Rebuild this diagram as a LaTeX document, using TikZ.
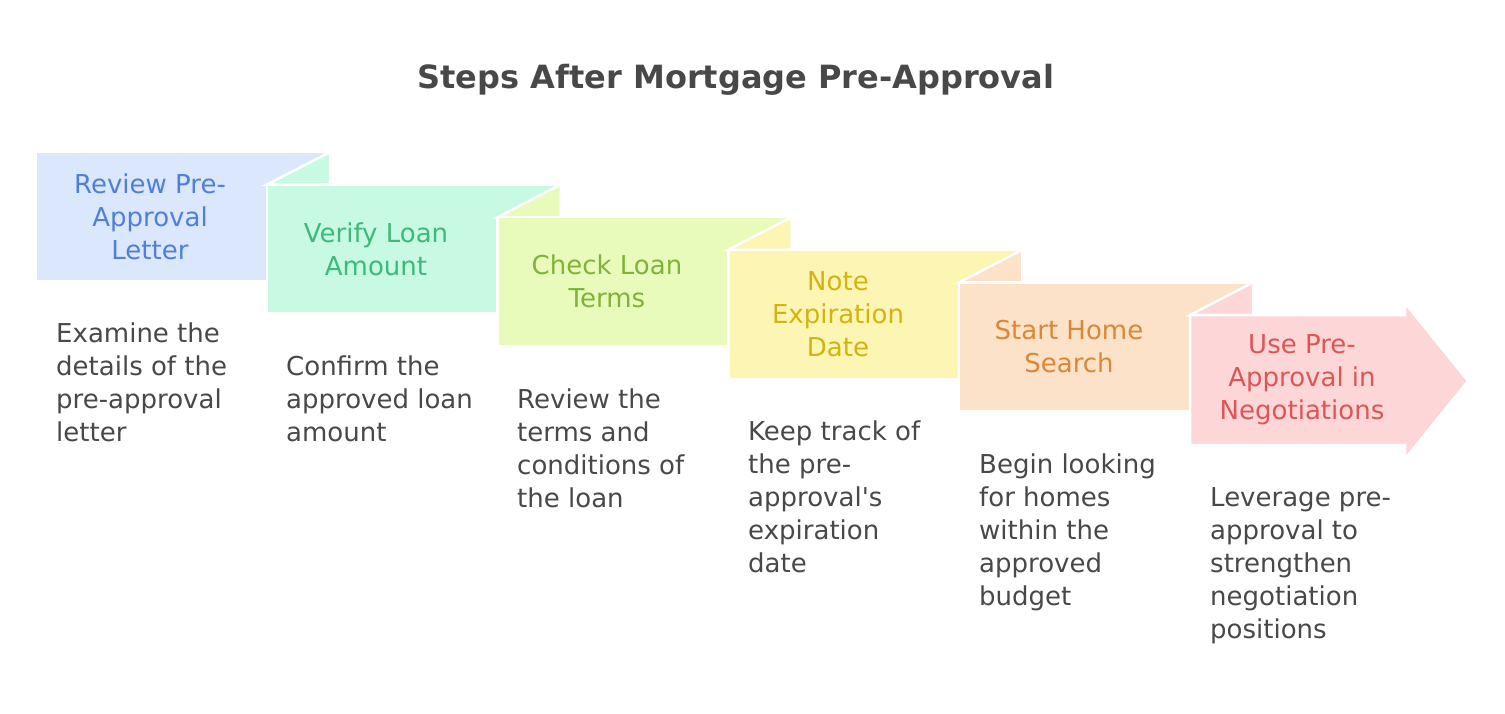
\documentclass[tikz,border=0pt]{standalone}
\usepackage{fontspec}
\setmainfont{DejaVu Sans}

\definecolor{reviewFill}{HTML}{DBE7FD}
\definecolor{reviewText}{HTML}{4F80D9}
\definecolor{verifyFill}{HTML}{C8FAE3}
\definecolor{verifyText}{HTML}{3DBA7B}
\definecolor{checkFill}{HTML}{E8FBBB}
\definecolor{checkText}{HTML}{80B339}
\definecolor{noteFill}{HTML}{FDF5B3}
\definecolor{noteText}{HTML}{D3B40F}
\definecolor{searchFill}{HTML}{FDE2CA}
\definecolor{searchText}{HTML}{DD8634}
\definecolor{useFill}{HTML}{FDD7D7}
\definecolor{useText}{HTML}{DD5555}
\definecolor{inkGray}{HTML}{484848}

\begin{document}
\begin{tikzpicture}[x=1pt,y=-1pt,
    stepbox/.style={draw=white,line width=2.5pt,line join=miter},
    steptext/.style={font=\fontsize{26}{33}\selectfont,align=center,inner sep=0pt},
    stepdesc/.style={font=\fontsize{26}{33}\selectfont,align=left,anchor=north west,inner sep=0pt,text=inkGray}]
   \useasboundingbox (0,0) rectangle (1505,713);
   \node[font=\bfseries\fontsize{32}{38}\selectfont,text=inkGray] (title) at (736,80) {Steps After Mortgage Pre-Approval};
   % review
   \draw[stepbox,fill=reviewFill] (36,152) rectangle (330,281);
   % verify
   \draw[stepbox,fill=verifyFill] (266.8,184.6) -- (330,152) -- (330,184.6) -- cycle;
   \draw[stepbox,fill=verifyFill] (266.8,184.6) rectangle (560.8,313.6);
   % check
   \draw[stepbox,fill=checkFill] (497.6,217.2) -- (560.8,184.6) -- (560.8,217.2) -- cycle;
   \draw[stepbox,fill=checkFill] (497.6,217.2) rectangle (791.6,346.2);
   % note
   \draw[stepbox,fill=noteFill] (728.4,249.8) -- (791.6,217.2) -- (791.6,249.8) -- cycle;
   \draw[stepbox,fill=noteFill] (728.4,249.8) rectangle (1022.4,378.8);
   % search
   \draw[stepbox,fill=searchFill] (959.2,282.4) -- (1022.4,249.8) -- (1022.4,282.4) -- cycle;
   \draw[stepbox,fill=searchFill] (959.2,282.4) rectangle (1253.2,411.4);
   % use
   \draw[stepbox,fill=useFill] (1190,315) -- (1253.2,282.4) -- (1253.2,315) -- cycle;
   \draw[stepbox,fill=useFill] (1190,315) -- (1405,315) -- (1405,303) -- (1468,381)
        -- (1405,459) -- (1405,445) -- (1190,445) -- cycle;

   \node[steptext,text=reviewText] (review) at (150,216.5) {Review Pre-\\Approval\\Letter};
   \node[steptext,text=verifyText] (verify) at (376,249.1) {Verify Loan\\Amount};
   \node[steptext,text=checkText] (check) at (607,281.7) {Check Loan\\Terms};
   \node[steptext,text=noteText] (note) at (838,314.3) {Note\\Expiration\\Date};
   \node[steptext,text=searchText] (search) at (1069,346.9) {Start Home\\Search};
   \node[steptext,text=useText] (use) at (1302,380) {Use Pre-\\Approval in\\Negotiations};

   \node[stepdesc] (reviewdesc) at (56,323) {Examine the\\details of the\\pre-approval\\letter};
   \node[stepdesc] (verifydesc) at (286,356) {Confirm the\\approved loan\\amount};
   \node[stepdesc] (checkdesc) at (517,389) {Review the\\terms and\\conditions of\\the loan};
   \node[stepdesc] (notedesc) at (748,421) {Keep track of\\the pre-\\approval\textquotesingle s\\expiration\\date};
   \node[stepdesc] (searchdesc) at (979,454) {Begin looking\\for homes\\within the\\approved\\budget};
   \node[stepdesc] (usedesc) at (1210,487) {Leverage pre-\\approval to\\strengthen\\negotiation\\positions};
\end{tikzpicture}
\end{document}
